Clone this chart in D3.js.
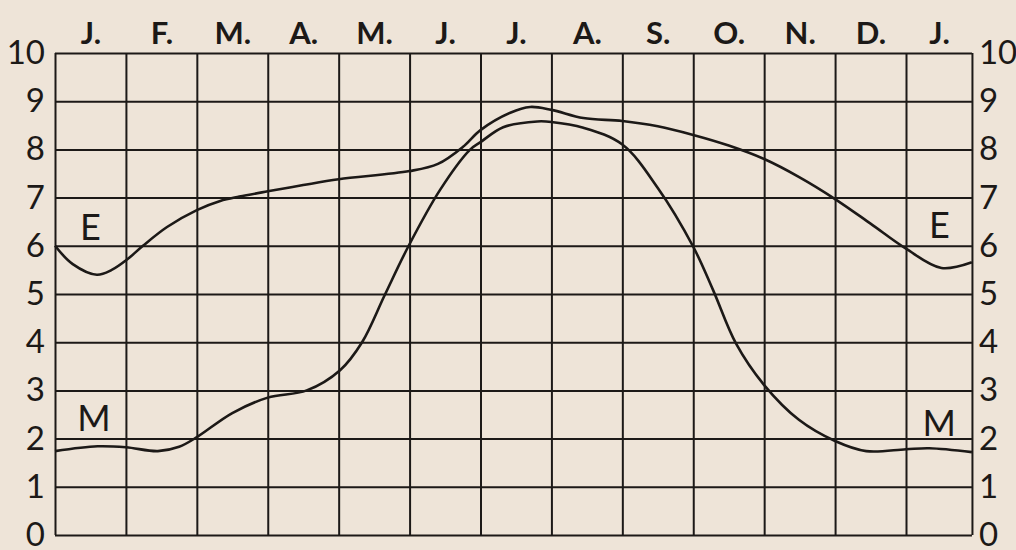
<!DOCTYPE html>
<html>
<head>
<meta charset="utf-8">
<script src="https://cdn.jsdelivr.net/npm/d3@7"></script>
<style>
    html, body { margin: 0; padding: 0; background: #eee4d8; }
    svg { display: block; }
    text { font-family: Lato, "DejaVu Sans", sans-serif; fill: #1c1917; }
</style>
</head>
<body>
<svg width="1016" height="550"></svg>
<script>
// month labels sit in the middle of each column, last column is a bit short
const monthLabels = ["J.", "F.", "M.", "A.", "M.", "J.", "J.", "A.", "S.", "O.", "N.", "D.", "J."];
const yTicks = [0, 1, 2, 3, 4, 5, 6, 7, 8, 9, 10];
const lastEdge = 12.93;

// curve E: [month position, value]
const seriesE = [
    [0, 6.0], [0.25, 5.62], [0.59, 5.4], [0.8, 5.5], [1.02, 5.72], [1.24, 6.0],
    [1.58, 6.39], [2.0, 6.74], [2.33, 6.93], [2.6, 7.02], [3.0, 7.13], [3.5, 7.26],
    [4.0, 7.38], [5.0, 7.55], [5.4, 7.7], [5.75, 8.05], [6.0, 8.4], [6.42, 8.76],
    [6.7, 8.88], [7.0, 8.82], [7.45, 8.65], [8.0, 8.59], [8.5, 8.48], [9.0, 8.3],
    [9.5, 8.08], [10.0, 7.8], [10.5, 7.42], [11.0, 6.97], [11.5, 6.46], [12.0, 5.94],
    [12.5, 5.54], [12.93, 5.66]
];

// curve M
const seriesM = [
    [0, 1.74], [0.6, 1.84], [1.0, 1.82], [1.45, 1.74], [1.75, 1.83], [2.0, 2.03],
    [2.5, 2.53], [3.0, 2.85], [3.55, 3.0], [4.02, 3.42], [4.33, 4.0], [4.65, 4.98],
    [4.98, 5.98], [5.43, 7.16], [5.85, 7.99], [6.0, 8.15], [6.32, 8.46], [6.8, 8.58],
    [7.0, 8.57], [7.45, 8.45], [8.0, 8.1], [8.5, 7.2], [9.0, 5.98], [9.28, 5.08],
    [9.6, 3.98], [10.0, 3.11], [10.49, 2.39], [11.0, 1.95], [11.44, 1.74], [12.0, 1.78],
    [12.33, 1.8], [12.93, 1.72]
];

const curveLabels = [
    { text: "E", pos: 0.5, value: 6.3 },
    { text: "E", pos: 12.47, value: 6.35 },
    { text: "M", pos: 0.55, value: 2.35 },
    { text: "M", pos: 12.47, value: 2.25 }
];

const ink = "#1c1917";
const svg = d3.select("svg");

const x = d3.scaleLinear().domain([0, 12]).range([55, 906]);
const y = d3.scaleLinear().domain([0, 10]).range([535, 53]);
const left = x(0), right = x(lastEdge);

// horizontal grid + left labels
const gLeft = svg.append("g")
    .attr("transform", `translate(${left},0)`)
    .call(d3.axisLeft(y).tickValues(yTicks).tickSize(-(right - left)).tickPadding(10).tickFormat(d3.format("d")));
gLeft.select(".domain").remove();
gLeft.selectAll("line").attr("stroke", ink).attr("stroke-width", 2);
gLeft.selectAll("text").style("font-size", "33px").attr("fill", ink);

// right labels
const gRight = svg.append("g")
    .attr("transform", `translate(${right},0)`)
    .call(d3.axisRight(y).tickValues(yTicks).tickSize(0).tickPadding(7).tickFormat(d3.format("d")));
gRight.select(".domain").remove();
gRight.selectAll("text").style("font-size", "33px").attr("fill", ink);

// vertical grid
const vTicks = d3.range(0, 13).concat([lastEdge]);
const gVert = svg.append("g")
    .attr("transform", `translate(0,${y(0)})`)
    .call(d3.axisBottom(x).tickValues(vTicks).tickSize(-(y(0) - y(10))).tickFormat(""));
gVert.select(".domain").remove();
gVert.selectAll("line").attr("stroke", ink).attr("stroke-width", 2);

// month labels on top
const gTop = svg.append("g")
    .attr("transform", `translate(0,${y(10)})`)
    .call(d3.axisTop(x)
        .tickValues(monthLabels.map((_, i) => i < 12 ? i + 0.5 : (12 + lastEdge) / 2))
        .tickSize(0).tickPadding(9)
        .tickFormat((d, i) => monthLabels[i]));
gTop.select(".domain").remove();
gTop.selectAll("text").style("font-size", "31px").style("font-weight", "bold").attr("fill", ink);

const line = d3.line()
    .x(d => x(d[0]))
    .y(d => y(d[1]))
    .curve(d3.curveCatmullRom.alpha(0.5));

[seriesE, seriesM].forEach(s => {
    svg.append("path")
        .datum(s)
        .attr("fill", "none")
        .attr("stroke", ink)
        .attr("stroke-width", 2.6)
        .attr("stroke-linejoin", "round")
        .attr("d", line);
});

svg.selectAll(".curve-label")
    .data(curveLabels)
    .join("text")
    .attr("class", "curve-label")
    .attr("x", d => x(d.pos))
    .attr("y", d => y(d.value))
    .attr("text-anchor", "middle")
    .attr("dominant-baseline", "middle")
    .style("font-size", "36px")
    .text(d => d.text);
</script>
</body>
</html>
